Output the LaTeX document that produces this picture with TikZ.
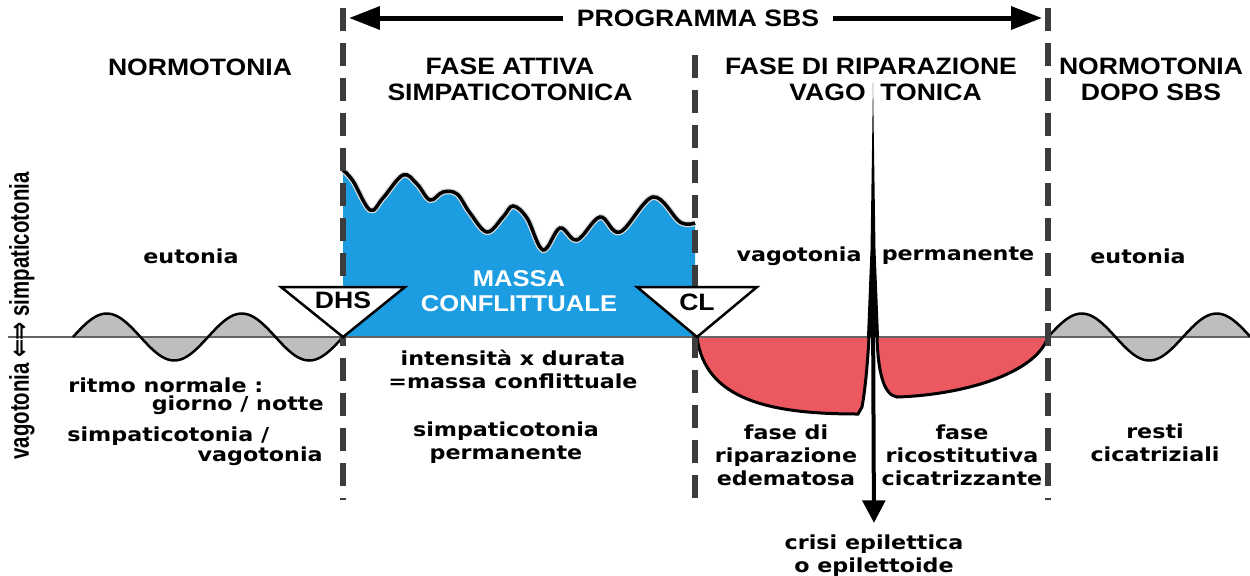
\documentclass[tikz,border=0pt]{standalone}
\usepackage{fontspec}
\setmainfont{Liberation Sans}
\newfontfamily\headfont{Liberation Sans}[FakeStretch=1.12]
\newfontfamily\bodyfont{DejaVu Sans}[FakeStretch=1.15]
\newfontfamily\sidefont{Liberation Sans Bold}[FakeStretch=0.75]
\newfontfamily\arrowfont{DejaVu Sans Bold}[FakeStretch=0.8]
\usepackage{tikz}
\usetikzlibrary{arrows.meta}
\definecolor{massblue}{RGB}{28,157,226}
\definecolor{repairred}{RGB}{236,88,96}
\definecolor{tonegray}{RGB}{190,190,190}
\definecolor{sepgray}{RGB}{60,60,60}

\begin{document}
\begin{tikzpicture}[x=0.02cm,y=-0.02cm,
		head/.style={font=\headfont\bfseries\fontsize{13.5}{14.7}\selectfont, align=center, inner sep=0pt},
		body/.style={font=\bodyfont\bfseries\fontsize{11}{13}\selectfont, align=center, inner sep=0pt},
		phase/.style={sepgray, line width=0.12cm, dash pattern=on 0.46cm off 0.24cm},
		tone/.style={black, line width=0.05cm, fill=tonegray},
		lobe/.style={black, line width=0.06cm},
		marker/.style={black, line width=0.05cm, fill=white, line join=miter},
		prog/.style={line width=0.1cm, -{Triangle[length=0.62cm,width=0.45cm]}},
		crisis/.style={line width=0.08cm, -{Triangle[length=0.45cm,width=0.45cm]}}]
	\useasboundingbox (0,0) rectangle (1250,575);
	% conflict mass
	\fill[massblue] (343,337) -- (343,170) -- plot[smooth, tension=0.6] coordinates {
		(343,170) (353,181) (370,210) (383,198) (403,175) (417,184) (430,200) (443,192)
		(457,194) (470,213) (487,232) (503,217) (513,206) (527,218) (543,250) (560,228)
		(577,240) (600,217) (620,232) (653,197) (680,222) (695,223)} -- (695,337) -- cycle;
	% repair phase
	\fill[repairred] (697,337) .. controls (705,400) and (770,414) .. (858,414)
		-- (862,407) .. controls (866,385) and (868,355) .. (869,337) -- cycle;
	\fill[repairred] (877,337) .. controls (878,370) and (883,395) .. (897,397)
		.. controls (960,395) and (1035,375) .. (1048,337) -- cycle;
	% day / night rhythm
	\fill[tonegray] plot[domain=73:343, samples=80] (\x,{337-23.5*sin(2.6667*(\x-73))}) -- cycle;
	\fill[tonegray] plot[domain=1048:1250, samples=60] (\x,{337-23.5*sin(2.6667*(\x-1048))}) -- cycle;
	\coordinate (AL) at (8,337);
	\coordinate (AR) at (1250,337);
	\draw[sepgray!80, line width=0.04cm] (AL) -- (AR);
	\draw[black, line width=0.05cm] plot[domain=73:343, samples=80] (\x,{337-23.5*sin(2.6667*(\x-73))});
	\draw[black, line width=0.05cm] plot[domain=1048:1250, samples=60] (\x,{337-23.5*sin(2.6667*(\x-1048))});
	\draw[white!70!gray, line width=0.12cm] plot[smooth, tension=0.6] coordinates {
		(343,170) (353,181) (370,210) (383,198) (403,175) (417,184) (430,200) (443,192)
		(457,194) (470,213) (487,232) (503,217) (513,206) (527,218) (543,250) (560,228)
		(577,240) (600,217) (620,232) (653,197) (680,222) (695,223)};
	\draw[black, line width=0.07cm] plot[smooth, tension=0.6] coordinates {
		(343,170) (353,181) (370,210) (383,198) (403,175) (417,184) (430,200) (443,192)
		(457,194) (470,213) (487,232) (503,217) (513,206) (527,218) (543,250) (560,228)
		(577,240) (600,217) (620,232) (653,197) (680,222) (695,223)};
	\draw[lobe] (697,337) .. controls (705,400) and (770,414) .. (858,414)
		-- (862,407) .. controls (866,385) and (868,355) .. (869,337);
	\draw[lobe] (877,337) .. controls (878,370) and (883,395) .. (897,397)
		.. controls (960,395) and (1035,375) .. (1048,337);
	% epileptic crisis
	\fill[black] (867,337) -- (870.5,250) -- (872,150) -- (873,82) -- (874,150) -- (875.5,250) -- (879,337) -- cycle;
	% phase borders
	\coordinate (DT) at (343,8);
	\coordinate (DB) at (343,500);
	\coordinate (CT) at (695,55);
	\coordinate (CB) at (695,500);
	\coordinate (ST) at (1048,8);
	\coordinate (SB) at (1048,500);
	\draw[phase] (DT) -- (DB);
	\draw[phase] (CT) -- (CB);
	\draw[phase] (ST) -- (SB);
	\coordinate (DA) at (343,337);
	\coordinate (CA) at (697,337);
	\filldraw[marker] (DA) -- ++(-62,-50) -- ++(124,0) -- cycle;
	\filldraw[marker] (CA) -- ++(-60,-50) -- ++(120,0) -- cycle;
	\node[head] (DH) at (343,300) {DHS};
	\node[head] (CL) at (697,302) {CL};
	% headings
	\node[head] (PS) at (698,18) {PROGRAMMA SBS};
	\coordinate (PL) at (349,18);
	\coordinate (PR) at (1042,18);
	\draw[prog] (PS.west) ++(-14,0) -- (PL);
	\draw[prog] (PS.east) ++(14,0) -- (PR);
	\node[head] (NO) at (200,67) {NORMOTONIA};
	\node[head] (FA) at (510,79) {FASE ATTIVA\\SIMPATICOTONICA};
	\node[head] (FR) at (871,66) {FASE DI RIPARAZIONE};
	\node[head, anchor=east] (VA) at (866,92) {VAGO};
	\node[head, anchor=west] (TO) at (880,92) {TONICA};
	\node[head] (ND) at (1151,79) {NORMOTONIA\\DOPO SBS};
	\node[head, white, font=\headfont\bfseries\fontsize{13}{14.3}\selectfont] (MC) at (519,291) {MASSA\\CONFLITTUALE};
	% texts
	\node[font=\sidefont\fontsize{15.5}{16}\selectfont, rotate=90, inner sep=0pt] (VS) at (22,316)
		{vagotonia {\arrowfont ⇐\kern-0.05em⇒} simpaticotonia};
	\node[body] (EL) at (191,256) {eutonia};
	\node[body] (VT) at (799,256) {vagotonia};
	\node[body] (PE) at (958,256) {permanente};
	\node[body] (ER) at (1138,256) {eutonia};
	\node[body, anchor=west] (RN) at (68,385) {ritmo normale :};
	\node[body, anchor=east] (GN) at (324,405) {giorno / notte};
	\node[body, anchor=west] (SV) at (67,436) {simpaticotonia /};
	\node[body, anchor=east] (VG) at (323,456) {vagotonia};
	\node[body] (ID) at (513,369) {intensità x durata\\=massa conflittuale};
	\node[body] (SP) at (506,443) {simpaticotonia\\permanente};
	\node[body] (FE) at (786,455) {fase di\\riparazione\\edematosa};
	\node[body] (FC) at (962,455) {fase\\ricostitutiva\\cicatrizzante};
	\node[body] (RC) at (1155,443) {resti\\cicatriziali};
	\node[body] (CE) at (874,556) {crisi epilettica\\o epilettoide};
	\coordinate (CS) at (873,300);
	\draw[crisis, shorten >=0.24cm] (CS) -- (CE.north);
\end{tikzpicture}
\end{document}
